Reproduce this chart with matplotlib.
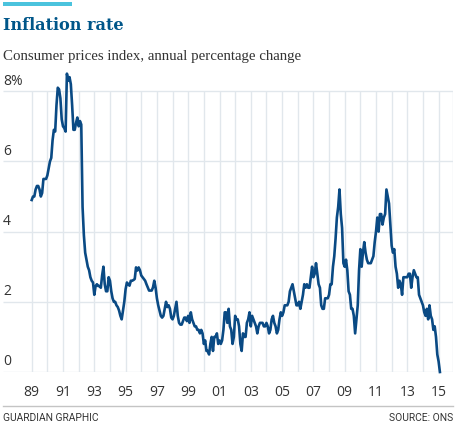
import numpy as np
import matplotlib
matplotlib.use("Agg")
import matplotlib.pyplot as plt
from matplotlib.patches import Rectangle
from matplotlib.lines import Line2D

# UK CPI, annual % change, monthly from Jan 1989
cpi_1989 = [4.9, 5.0, 5.0, 5.2, 5.3, 5.3, 5.2, 5.0, 5.1, 5.5, 5.5, 5.5]
cpi_1990 = [5.6, 5.8, 6.0, 6.1, 6.6, 6.9, 6.85, 7.6, 8.1, 8.05, 7.8, 7.2]
cpi_1991 = [7.0, 6.95, 6.85, 8.5, 8.3, 8.4, 8.2, 7.6, 6.9, 6.9, 7.1, 7.25]
cpi_1992 = [7.0, 7.15, 7.05, 4.7, 3.9, 3.4, 3.2, 3.0, 2.9, 2.7, 2.6, 2.55]
cpi_1993 = [2.2, 2.45, 2.5, 2.45, 2.45, 2.4, 2.75, 3.0, 2.5, 2.3, 2.3, 2.7]
cpi_1994 = [2.6, 2.3, 2.1, 2.0, 2.0, 1.9, 1.85, 1.75, 1.6, 1.5, 1.75, 2.0]
cpi_1995 = [2.36, 2.55, 2.5, 2.46, 2.6, 2.6, 2.62, 2.65, 2.98, 2.89, 2.98, 2.9]
cpi_1996 = [2.75, 2.7, 2.65, 2.6, 2.5, 2.41, 2.32, 2.32, 2.32, 2.41, 2.6, 2.4]
cpi_1997 = [2.1, 1.9, 1.75, 1.6, 1.55, 1.6, 1.8, 2.0, 1.85, 1.9, 1.8, 1.55]
cpi_1998 = [1.5, 1.6, 1.8, 2.0, 1.6, 1.4, 1.35, 1.35, 1.45, 1.55, 1.55, 1.45]
cpi_1999 = [1.6, 1.4, 1.7, 1.5, 1.4, 1.3, 1.3, 1.2, 1.2, 1.1, 1.2, 1.1]
cpi_2000 = [0.8, 0.9, 0.6, 0.6, 0.5, 0.8, 1.0, 0.6, 1.0, 1.0, 1.1, 0.8]
cpi_2001 = [0.9, 0.8, 0.9, 1.2, 1.7, 1.7, 1.4, 1.8, 1.3, 1.2, 0.8, 1.0]
cpi_2002 = [1.6, 1.5, 1.5, 1.3, 0.8, 0.6, 1.1, 1.0, 1.0, 1.4, 1.5, 1.7]
cpi_2003 = [1.3, 1.6, 1.5, 1.4, 1.3, 1.1, 1.3, 1.4, 1.4, 1.4, 1.3, 1.3]
cpi_2004 = [1.4, 1.3, 1.1, 1.2, 1.5, 1.6, 1.4, 1.3, 1.1, 1.2, 1.5, 1.7]
cpi_2005 = [1.6, 1.7, 1.9, 1.9, 1.9, 2.0, 2.3, 2.4, 2.5, 2.3, 2.1, 1.9]
cpi_2006 = [1.9, 2.0, 1.8, 2.0, 2.2, 2.5, 2.4, 2.5, 2.4, 2.4, 2.7, 3.0]
cpi_2007 = [2.7, 2.8, 3.1, 2.8, 2.5, 2.4, 1.9, 1.8, 1.8, 2.1, 2.1, 2.1]
cpi_2008 = [2.2, 2.5, 2.5, 3.0, 3.3, 3.8, 4.4, 4.7, 5.2, 4.5, 4.1, 3.1]
cpi_2009 = [3.0, 3.2, 2.9, 2.3, 2.2, 1.8, 1.8, 1.6, 1.1, 1.5, 1.9, 2.9]
cpi_2010 = [3.5, 3.0, 3.4, 3.7, 3.4, 3.2, 3.1, 3.1, 3.1, 3.2, 3.3, 3.7]
cpi_2011 = [4.0, 4.4, 4.0, 4.5, 4.5, 4.2, 4.4, 4.5, 5.2, 5.0, 4.8, 4.2]
cpi_2012 = [3.6, 3.4, 3.5, 3.0, 2.8, 2.4, 2.6, 2.5, 2.2, 2.7, 2.7, 2.7]
cpi_2013 = [2.7, 2.8, 2.8, 2.4, 2.7, 2.9, 2.8, 2.7, 2.7, 2.2, 2.1, 2.0]
cpi_2014 = [1.9, 1.7, 1.6, 1.8, 1.5, 1.9, 1.6, 1.5, 1.2, 1.3, 1.0, 0.5]
cpi_2015 = [0.3, 0.0]

year_ticks = list(range(1989, 2016, 2))
year_labels = ["89", "91", "93", "95", "97", "99", "01", "03", "05", "07", "09", "11", "13", "15"]
y_ticks = [0, 2, 4, 6, 8]
y_labels = ["0", "2", "4", "6", "8%"]

cpi = (cpi_1989 + cpi_1990 + cpi_1991 + cpi_1992 + cpi_1993 + cpi_1994 + cpi_1995
       + cpi_1996 + cpi_1997 + cpi_1998 + cpi_1999 + cpi_2000 + cpi_2001 + cpi_2002
       + cpi_2003 + cpi_2004 + cpi_2005 + cpi_2006 + cpi_2007 + cpi_2008 + cpi_2009
       + cpi_2010 + cpi_2011 + cpi_2012 + cpi_2013 + cpi_2014 + cpi_2015)
t = 1989 + np.arange(len(cpi)) / 12.0

W, H = 460, 427
fig = plt.figure(figsize=(W / 100, H / 100), dpi=100)
fig.patch.set_facecolor("white")

x0, x1 = 3 / W, 453 / W
ax = fig.add_axes([x0, (H - 373) / H, x1 - x0, (373 - 70) / H])
ax.set_xlim(1987.166, 2015.92)
ax.set_ylim(0, (373 - 70) / 35.1)

grid_col = "#e1e7ec"
ax.hlines(y_ticks, 1987.166, 2015.92, color=grid_col, lw=1.0, zorder=1)
ax.vlines(list(range(1989, 2016)) + [2015.92], 0, 8, color=grid_col, lw=1.0, zorder=1)

ax.plot(t, cpi, color="#0a4a84", lw=1.9, zorder=3, clip_on=False, solid_joinstyle="round")

for v, lab in zip(y_ticks, y_labels):
    ax.text(0, v + 0.1, lab, transform=ax.get_yaxis_transform(), ha="left", va="bottom",
            fontsize=10, family="Open Sans", color="#333333")

ax.set_xticks(year_ticks)
ax.set_xticklabels(year_labels, fontsize=10, family="Open Sans", color="#333333")
ax.tick_params(axis="x", length=0, pad=9)
ax.set_yticks([])
for s in ax.spines.values():
    s.set_visible(False)

# header
fig.patches.append(Rectangle((3 / W, (H - 7) / H), 69 / W, 4 / H, transform=fig.transFigure,
                             color="#4bc3dd", lw=0))
fig.text(3 / W, (H - 29.5) / H, "Inflation rate", fontsize=11.6, fontweight="heavy",
         family="DejaVu Serif", color="#005689", va="baseline")
fig.text(3 / W, (H - 60) / H, "Consumer prices index, annual percentage change", fontsize=10.7,
         family="Liberation Serif", color="#333333", va="baseline")

# footer
fig.add_artist(Line2D([3 / W, 453 / W], [(H - 406.5) / H] * 2, color="#c4c4c4", lw=1.0))
fig.text(3 / W, (H - 418) / H, "GUARDIAN GRAPHIC", fontsize=7.4, family="Roboto",
         color="#333333", va="center", ha="left")
fig.text(453 / W, (H - 418) / H, "SOURCE: ONS", fontsize=7.4, family="Roboto",
         color="#333333", va="center", ha="right")

fig.savefig("out.png", dpi=100)
